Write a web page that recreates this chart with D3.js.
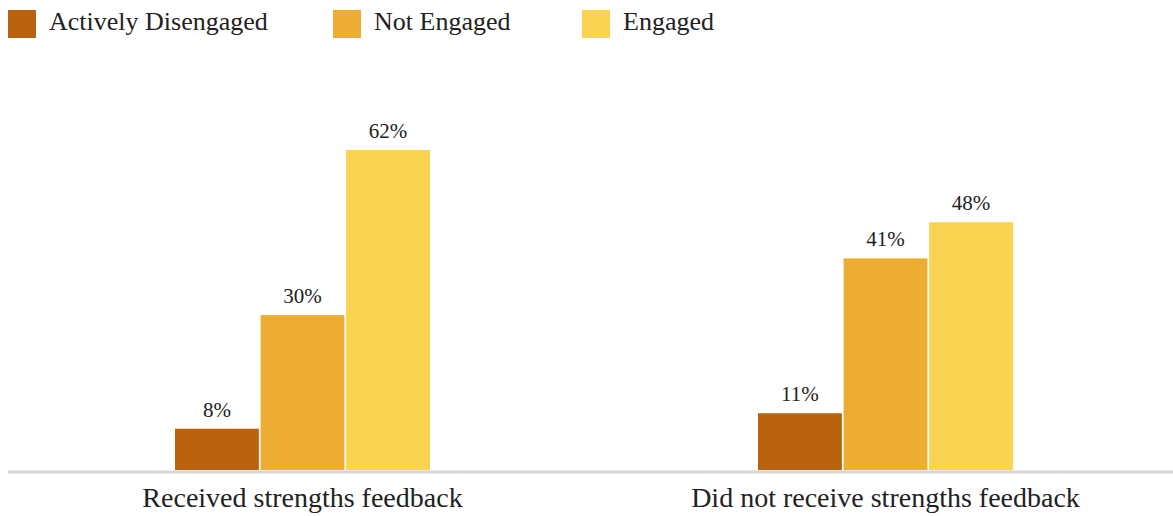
<!DOCTYPE html>
<html>
<head>
<meta charset="utf-8">
<script src="https://cdn.jsdelivr.net/npm/d3@7"></script>
<style>
  body { margin: 0; background: #fff; }
  text { font-family: "Liberation Serif", "DejaVu Serif", serif; fill: #222; }
</style>
</head>
<body>
<div id="chart"></div>
<script>
var groups = ["Received strengths feedback", "Did not receive strengths feedback"];
var series = ["Actively Disengaged", "Not Engaged", "Engaged"];
var colors = ["#b9620e", "#edac32", "#fad350"];
var received = [8, 30, 62];
var notReceived = [11, 41, 48];

var width = 1173, height = 516;
var data = [received, notReceived];

var svg = d3.select("#chart")
            .append("svg")
            .attr("width", width)
            .attr("height", height);

var x0 = d3.scaleBand()
        .domain(groups)
        .range([11, 1177]);
var x1 = d3.scaleBand()
        .domain(series)
        .range([0, 255])
        .paddingInner(0.02);
var y = d3.scaleLinear()
        .domain([0, 62])
        .range([470, 150]);
var color = d3.scaleOrdinal()
        .domain(series)
        .range(colors);

// bars
var g = svg.selectAll(".group")
    .data(groups)
    .enter()
    .append("g")
    .attr("transform", d => "translate(" + (x0(d) + (x0.bandwidth() - 255) / 2) + ",0)");

g.selectAll("rect")
    .data((d, i) => series.map((s, j) => ({s: s, v: data[i][j]})))
    .enter()
    .append("rect")
    .attr("x", d => x1(d.s))
    .attr("y", d => y(d.v))
    .attr("width", x1.bandwidth())
    .attr("height", d => y(0) - y(d.v))
    .style("fill", d => color(d.s));

g.selectAll(".val")
    .data((d, i) => series.map((s, j) => ({s: s, v: data[i][j]})))
    .enter()
    .append("text")
    .attr("x", d => x1(d.s) + x1.bandwidth() / 2)
    .attr("y", d => y(d.v) - 12)
    .attr("text-anchor", "middle")
    .style("font-size", "21px")
    .text(d => d.v + "%");

// baseline
svg.append("line")
    .attr("x1", 8).attr("x2", width)
    .attr("y1", y(0) + 2).attr("y2", y(0) + 2)
    .style("stroke", "#d5d6d1")
    .style("stroke-width", 3);

// category labels
svg.selectAll(".cat")
    .data(groups)
    .enter()
    .append("text")
    .attr("x", d => x0(d) + x0.bandwidth() / 2)
    .attr("y", 507)
    .attr("text-anchor", "middle")
    .style("font-size", "28px")
    .text(d => d);

// legend
var legendX = [8, 333, 582];
var lg = svg.selectAll(".legend")
    .data(series)
    .enter()
    .append("g")
    .attr("transform", (d, i) => "translate(" + legendX[i] + ",10)");
lg.append("rect")
    .attr("width", 28)
    .attr("height", 28)
    .style("fill", d => color(d));
lg.append("text")
    .attr("x", 41)
    .attr("y", 20)
    .style("font-size", "26px")
    .text(d => d);
</script>
</body>
</html>
